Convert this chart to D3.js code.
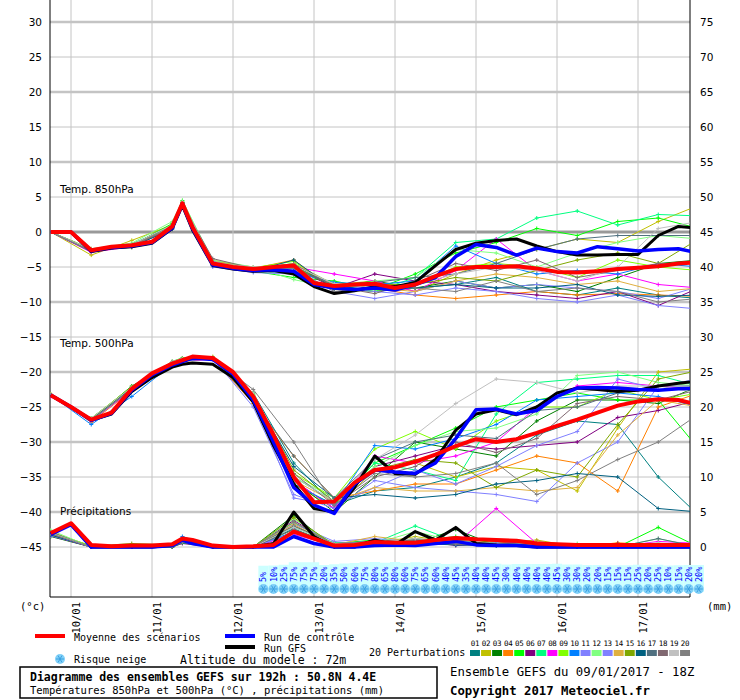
<!DOCTYPE html>
<html>
<head>
<meta charset="utf-8">
<script src="https://cdn.jsdelivr.net/npm/d3@7"></script>
<style>
  body { margin: 0; background: #fff; }
  text { font-family: "DejaVu Sans Mono", monospace; }
</style>
</head>
<body>
<svg id="chart"></svg>
<script>
// forecast hours (from 09/01 18Z)
const hours = [0,6,12,18,24,30,36,39,42,48,54,60,66,72,78,84,90,96,102,108,114,120,126,132,138,144,150,156,162,168,174,180,186,192];
const pertHours = [0,12,24,36,39,48,60,72,84,96,108,120,132,144,156,168,180,192];
const dayLabels = ["10/01","11/01","12/01","13/01","14/01","15/01","16/01","17/01"];
const dayHours = [6,30,54,78,102,126,150,174];
const leftTicks = [30,25,20,15,10,5,0,-5,-10,-15,-20,-25,-30,-35,-40,-45];
const rightTicks = [75,70,65,60,55,50,45,40,35,30,25,20,15,10,5,0];

const mean850 = [0,0,-2.6,-2.1,-1.9,-1.4,0.8,4.1,0.7,-4.5,-5,-5.3,-5,-4.8,-7.3,-7.7,-7.5,-7.4,-8,-7.5,-6.3,-5.3,-5,-5,-4.9,-5.2,-5.7,-5.8,-5.6,-5.3,-5.1,-4.9,-4.5,-4.3];
const ctrl850 = [0,0,-2.7,-2.2,-2.0,-1.5,0.6,4.0,0.5,-4.7,-5.2,-5.5,-5.4,-5.6,-7.5,-8.0,-8.2,-8.0,-8.3,-7.5,-6.5,-3.5,-1.8,-2.2,-3.3,-2.3,-2.8,-3.0,-2.1,-2.4,-2.7,-2.5,-2.4,-3.0];
const gfs850 = [0,0,-2.8,-2.3,-2.1,-1.6,0.5,3.8,0.3,-4.8,-5.3,-5.6,-5.5,-6.0,-7.8,-8.8,-8.4,-7.8,-7.8,-7.2,-4.8,-2.5,-1.6,-1.2,-1.0,-2.0,-2.8,-3.3,-3.3,-3.2,-3.2,-0.5,0.8,0.5];

const mean500 = [-23.3,-25,-26.8,-25.8,-22.4,-20.2,-18.8,-18.3,-17.8,-18,-20,-23.5,-29,-35,-38.6,-38.5,-35.8,-34,-33.6,-32.8,-31.8,-30.6,-29.6,-30,-29.6,-28.7,-27.7,-26.8,-25.8,-24.8,-24.2,-23.9,-24,-24.7];
const ctrl500 = [-23.3,-25,-26.9,-25.9,-22.6,-20.4,-19.0,-18.5,-18.0,-18.2,-20.3,-24.0,-30.0,-36.5,-39.0,-40.2,-36.0,-34.0,-34.3,-34.5,-33.0,-29.5,-25.4,-25.3,-26.0,-25.5,-23.5,-22.3,-22.2,-22.3,-22.5,-22.6,-22.4,-22.3];
const gfs500 = [-23.3,-25,-26.9,-26.0,-22.8,-20.8,-19.3,-18.9,-18.7,-18.9,-20.8,-24.3,-30.5,-36.0,-39.5,-40.0,-36.5,-32.0,-34.5,-34.6,-32.5,-28.3,-26.0,-25.4,-26.1,-25.0,-23.0,-22.3,-22.5,-22.8,-22.6,-22.0,-21.6,-21.3];

const meanPr = [2.0,3.4,0.3,0.1,0.2,0.2,0.4,1.2,1.0,0.2,0,0.1,0.3,2.2,1.2,0.2,0.3,0.7,0.6,0.6,1.0,1.3,1.1,1.0,0.9,0.5,0.4,0.3,0.3,0.3,0.3,0.3,0.3,0.3];
const ctrlPr = [1.8,3.2,0,0,0,0,0.2,1.0,0.5,0,0,0,0,1.5,0.5,0,0,0.2,0.3,0.2,0.5,0.8,0.3,0.2,0.2,0,0,0,0,0,0,0,0,0];
const gfsPr = [1.9,3.3,0,0,0,0,0.3,1.1,0.6,0,0,0,0.5,5.0,1.5,0,0,1.0,0.3,2.2,1.0,2.8,0.5,0.3,0.2,0,0,0,0,0,0,0,0,0];

const pertColors = ["#008080","#c0c000","#008000","#ff8000","#00ff00","#800080","#00ff80","#ff00ff","#80ff00","#0080ff","#8080ff","#80ff80","#8080ff","#e0b040","#80a800","#006080","#507080","#806870","#c0c0c0","#808080"];
const pertNames = ["01","02","03","04","05","06","07","08","09","10","11","12","13","14","15","16","17","18","19","20"];

const pert850 = [
  [0,-2.8,-2.0,0.5,3.8,-4.8,-5.5,-4.5,-8.0,-8.5,-8.0,-7.5,-6.5,-8.5,-9.0,-8.0,-9.0,-9.5],
  [0,-3.3,-1.2,1.0,4.0,-4.2,-5.0,-5.5,-7.5,-7.0,-8.5,-6.0,-4.0,-2.5,-1.0,-1.5,1.5,3.8],
  [0,-2.5,-2.2,0.6,4.2,-4.6,-5.4,-4.8,-7.8,-7.0,-8.0,-7.0,-8.0,-7.5,-8.5,-6.5,-4.5,-4.0],
  [0,-2.4,-1.8,0.9,4.0,-4.0,-5.2,-4.0,-8.2,-8.0,-9.0,-9.5,-9.0,-8.5,-9.0,-8.8,-9.0,-9.2],
  [0,-2.6,-1.9,1.2,4.5,-4.4,-5.6,-6.5,-7.0,-8.2,-6.0,-3.0,-1.5,0.5,-0.5,1.5,2.0,0.5],
  [0,-2.7,-2.0,0.7,4.1,-4.6,-5.3,-5.0,-8.0,-6.0,-7.0,-7.5,-8.5,-9.0,-9.5,-8.5,-10.5,-8.0],
  [0,-2.5,-1.7,0.8,4.2,-4.5,-5.3,-4.5,-7.5,-8.5,-6.5,-1.5,-1.0,2.0,3.0,1.0,2.5,2.3],
  [0,-2.9,-2.1,0.5,3.9,-4.7,-5.5,-5.0,-6.0,-7.0,-8.5,-5.5,-1.0,-5.5,-7.0,-6.0,-7.5,-8.0],
  [0,-2.6,-2.0,0.9,4.3,-4.3,-5.1,-4.2,-8.0,-8.5,-7.5,-5.0,-4.5,-5.0,-6.5,-4.0,-5.0,-5.5],
  [0,-2.5,-2.0,0.6,4.0,-4.8,-5.6,-5.8,-7.2,-7.5,-7.0,-2.0,-4.5,-6.0,-5.5,-6.0,-4.5,-5.0],
  [0,-2.8,-1.8,0.7,4.0,-4.2,-5.4,-5.5,-8.5,-9.5,-8.5,-7.0,-8.0,-7.5,-8.0,-8.5,-9.5,-7.8],
  [0,-2.4,-1.6,1.5,4.4,-4.0,-5.0,-6.8,-8.0,-7.0,-6.5,-2.5,-3.0,-5.0,-3.0,-1.5,-0.5,-1.0],
  [0,-2.7,-2.0,0.8,4.1,-5.0,-5.8,-6.0,-8.0,-8.5,-9.0,-8.0,-8.5,-9.5,-10.0,-9.0,-10.5,-11.0],
  [0,-2.6,-1.9,0.8,4.0,-4.5,-5.3,-4.5,-7.5,-8.0,-8.5,-7.0,-6.0,-6.5,-7.5,-7.0,-8.5,-8.0],
  [0,-2.5,-2.0,0.6,4.2,-4.6,-5.2,-5.0,-7.8,-7.5,-7.5,-6.5,-7.0,-5.5,-4.0,-3.0,-4.5,-1.0],
  [0,-2.7,-2.1,0.4,3.8,-4.8,-5.6,-4.0,-8.2,-7.5,-8.0,-7.5,-8.0,-8.0,-7.5,-9.0,-9.2,-9.0],
  [0,-2.6,-1.8,0.9,4.2,-4.4,-5.4,-5.2,-7.6,-7.2,-6.5,-6.0,-4.5,-2.5,-1.0,-0.5,-0.5,-0.5],
  [0,-2.8,-2.0,0.6,3.9,-3.8,-5.2,-4.6,-7.8,-8.8,-7.0,-4.5,-5.5,-4.0,-6.5,-5.5,-4.5,-4.5],
  [0,-2.5,-1.8,1.0,4.3,-4.4,-5.0,-4.8,-7.4,-8.0,-7.5,-6.0,-5.0,-5.5,-7.0,-5.0,0.5,1.5],
  [0,-2.7,-2.0,0.7,4.0,-4.6,-5.5,-5.2,-8.5,-7.8,-8.0,-8.5,-7.0,-8.5,-8.0,-8.5,-10.0,-9.5]
];

const pert500 = [
  [-23.3,-26.6,-22.2,-18.5,-18.0,-18.2,-23.0,-33.0,-39.0,-37.0,-36.5,-35.0,-33.0,-29.0,-27.0,-27.5,-35.0,-40.5],
  [-23.4,-27.0,-22.5,-18.6,-18.2,-17.8,-24.0,-36.0,-39.5,-34.0,-33.0,-35.0,-33.5,-34.0,-37.0,-28.0,-20.0,-19.5],
  [-23.3,-26.8,-22.0,-18.7,-18.3,-18.0,-23.5,-35.5,-40.0,-35.0,-30.0,-31.0,-32.0,-27.0,-24.0,-24.0,-24.5,-22.0],
  [-23.2,-27.2,-22.6,-19.0,-18.5,-18.1,-24.5,-32.0,-38.0,-37.0,-36.0,-36.0,-34.0,-32.0,-33.0,-37.0,-25.0,-23.0],
  [-23.3,-26.7,-22.3,-18.8,-18.4,-18.0,-23.0,-36.0,-39.0,-33.0,-30.5,-28.0,-25.0,-24.0,-23.0,-24.0,-24.0,-31.0],
  [-23.4,-26.9,-22.4,-18.7,-18.2,-18.1,-23.8,-35.5,-39.5,-33.5,-32.0,-30.5,-31.0,-30.5,-30.0,-26.5,-25.5,-24.0],
  [-23.3,-26.8,-22.5,-18.6,-18.2,-18.0,-23.5,-35.0,-38.5,-33.0,-34.0,-35.5,-26.0,-21.5,-21.0,-20.5,-20.5,-22.0],
  [-23.5,-27.0,-22.6,-18.8,-18.4,-18.2,-23.8,-35.5,-39.5,-32.0,-33.0,-32.0,-30.0,-25.0,-22.0,-21.5,-22.0,-22.5],
  [-23.2,-26.6,-22.1,-18.5,-18.0,-17.9,-23.2,-34.5,-38.0,-31.0,-28.5,-31.0,-27.0,-25.0,-25.0,-22.5,-24.0,-23.0],
  [-23.3,-27.5,-23.5,-18.9,-18.4,-18.1,-23.6,-36.0,-39.0,-30.5,-31.0,-29.5,-27.5,-24.0,-23.5,-23.0,-23.5,-25.0],
  [-23.4,-26.9,-22.4,-18.8,-18.3,-18.0,-25.0,-37.5,-39.5,-35.5,-36.5,-37.0,-37.5,-38.5,-33.0,-30.0,-22.0,-21.0],
  [-23.3,-26.8,-22.3,-18.6,-18.2,-18.0,-23.4,-35.0,-38.0,-33.5,-30.5,-28.5,-28.0,-26.0,-20.5,-20.0,-21.5,-22.0],
  [-23.3,-27.0,-22.5,-18.7,-18.3,-18.1,-24.0,-38.0,-39.0,-36.5,-34.0,-36.0,-33.5,-30.5,-28.5,-21.0,-22.5,-22.5],
  [-23.3,-26.9,-22.4,-18.8,-18.3,-18.0,-23.5,-35.5,-38.5,-36.5,-37.0,-37.0,-36.5,-37.0,-36.5,-29.0,-24.0,-25.0],
  [-23.2,-26.7,-22.2,-18.6,-18.1,-17.9,-23.3,-34.0,-38.5,-34.0,-32.5,-33.0,-36.5,-34.0,-35.0,-27.5,-21.0,-19.8],
  [-23.3,-26.8,-22.3,-18.7,-18.2,-18.0,-23.6,-33.5,-38.0,-37.5,-38.0,-37.5,-36.0,-35.5,-34.5,-35.0,-39.5,-40.0],
  [-23.4,-26.8,-22.5,-18.6,-18.1,-18.1,-24.2,-32.0,-38.0,-32.5,-30.0,-29.0,-29.5,-25.5,-25.0,-23.0,-22.0,-22.0],
  [-23.3,-26.9,-22.4,-18.7,-18.3,-18.0,-23.5,-34.5,-39.0,-35.0,-33.5,-30.0,-31.5,-29.5,-24.5,-23.5,-24.0,-22.5],
  [-23.2,-26.6,-22.2,-18.5,-18.1,-17.9,-23.0,-35.0,-38.5,-32.5,-29.0,-24.5,-21.0,-21.5,-23.0,-22.0,-22.0,-23.0],
  [-23.3,-26.9,-22.4,-18.7,-18.3,-18.1,-22.5,-30.0,-39.0,-34.5,-35.0,-34.5,-33.0,-37.5,-35.5,-32.5,-30.0,-26.0]
];

const pertPr = [
  [1.8,0.2,0,0.2,0.6,0,0,2.0,0.3,0.5,1.0,0.8,0.3,0,0.3,0,0,0],
  [2.0,0,0.3,0.1,0.8,0,0,3.5,0.2,0.5,1.5,0.6,0.6,1.0,0,0.5,0,0],
  [1.5,0,0,0,1.0,0,0,4.5,0,0.8,0.5,2.5,0.2,0.4,0,0,0,0.2],
  [2.2,0.1,0,0.2,0.7,0,0,3.0,0.5,0.5,0.3,0.5,0.8,0,0,0.6,0.3,0],
  [1.9,0,0.1,0.3,0.9,0,0,2.5,0.5,1.0,0.8,1.5,0.5,0,0.2,0,2.8,0],
  [1.6,0,0,0,0.5,0,0,3.8,0.3,0.8,1.0,0.2,0.5,0.8,0,0.5,0,0.5],
  [2.1,0,0,0.1,0.8,0,0,2.8,0.6,0.6,3.0,0.8,0.3,0,0.3,0,0.2,0.3],
  [1.7,0,0,0.2,1.1,0,0,1.8,0.2,0.5,0.5,0.4,5.5,0.5,0,0,0.8,0.5],
  [2.0,0.2,0,0,0.6,0,0,3.5,0.4,0.5,0.6,1.0,0.3,0.2,0,0,0,0],
  [1.8,0,0.1,0.1,1.5,0,0,2.2,0.3,0.3,1.2,0.3,0.5,0,0,0.3,0,0],
  [1.9,0,0,0.2,0.8,0,0,3.3,0.8,1.2,0.8,0.6,0.4,0.3,0,0,0.5,0],
  [2.4,0,0.2,0.3,0.9,0,0,4.0,0.4,0.5,2.2,0.8,0.3,0,0.5,0,1.2,0],
  [1.6,0.1,0,0.1,0.7,0,0,2.0,0.5,0.8,0.4,0.5,0.6,0,0,0,0,0.3],
  [2.0,0,0.1,0.2,0.7,0,0,3.2,0.3,1.5,0.8,0.6,0.3,0.8,0,0,0,0.2],
  [1.8,0.1,0.5,0.3,0.8,0,0,4.2,0.3,0.6,1.2,0.7,0.5,0,0.3,0.3,0.4,0],
  [1.7,0,0,0,0.6,0,0,2.6,0.2,0.4,0.5,0.3,0.2,0,0,0,0,0],
  [2.1,0,0,0.1,0.8,0,0,3.0,0.5,0.8,1.0,1.0,0.4,0.5,0,0,1.2,0],
  [1.9,0,0,0.1,0.7,0,0,2.5,0.4,0.6,0.8,0.4,0.3,0,0.2,0,0,0],
  [2.0,0,0.1,0.2,0.8,0,0,2.8,0.5,0.6,1.2,0.8,0.5,0,0,0.3,0.6,0.2],
  [1.9,0,0,0.1,0.7,0,0,3.6,0.3,0.7,0.6,0.5,0.4,0.2,0,0,0,0]
];

// snow risk, 3-hourly from +63h
const snowStart = 63;
const snowPct = [5,10,25,75,75,75,20,35,50,60,75,80,65,80,60,75,65,60,40,45,35,40,40,45,30,40,40,40,40,45,30,30,20,20,15,15,15,25,20,25,10,15,20,20];

const W = 740, H = 700;
const pL = 50, pR = 690, pT = 0, pB = 597;

const svg = d3.select("#chart").attr("width", W).attr("height", H);

const x = d3.scaleLinear().domain([0, 192]).range([50.75, 50.75 + 192 * 81 / 24]);
const yT = d3.scaleLinear().domain([-45, 30]).range([547, 22]);
const yP = d3.scaleLinear().domain([0, 75]).range([547, 22]);

svg.append("defs").append("clipPath").attr("id", "plot")
  .append("rect").attr("x", pL).attr("y", pT).attr("width", pR - pL).attr("height", pB - pT);

// grid
const grid = svg.append("g");
grid.selectAll(".hg").data(leftTicks).join("line")
  .attr("x1", pL).attr("x2", pR)
  .attr("y1", d => yT(d)).attr("y2", d => yT(d))
  .attr("stroke", d => d === 0 ? "#999" : "#c4c4c4")
  .attr("stroke-width", d => d === 0 ? 3 : (d % 10 === 0 ? 2.5 : 1));
grid.selectAll(".vg").data(dayHours).join("line")
  .attr("x1", d => x(d)).attr("x2", d => x(d))
  .attr("y1", pT).attr("y2", pB)
  .attr("stroke", "#c4c4c4");

const sans = "Verdana, 'DejaVu Sans', sans-serif";

// axes
const axL = svg.append("g").attr("transform", `translate(${pL},0)`)
  .call(d3.axisLeft(yT).tickValues(leftTicks).tickSize(0).tickPadding(8));
const axR = svg.append("g").attr("transform", `translate(${pR},0)`)
  .call(d3.axisRight(yP).tickValues(rightTicks).tickSize(0).tickPadding(10));
[axL, axR].forEach(a => {
  a.select(".domain").attr("stroke", "#000").attr("d", `M0,${pT}V${pB}`);
  a.selectAll("text").style("font-family", sans).style("font-size", "10.5px");
});
svg.append("line").attr("x1", pL).attr("x2", pR).attr("y1", pB).attr("y2", pB).attr("stroke", "#000");

// date labels
svg.append("g").selectAll("text").data(dayHours).join("text")
  .attr("transform", d => `translate(${x(d) + 9},602) rotate(-90)`)
  .attr("text-anchor", "end")
  .style("font-size", "10.5px")
  .text((d, i) => dayLabels[i]);

svg.append("text").attr("x", 20).attr("y", 610).style("font-size", "10.5px").text("(°c)");
svg.append("text").attr("x", 707).attr("y", 610).style("font-size", "10.5px").text("(mm)");

[["Temp. 850hPa", 193], ["Temp. 500hPa", 347], ["Précipitations", 515]].forEach(([t, yy]) =>
  svg.append("text").attr("x", 60).attr("y", yy).style("font-family", sans).style("font-size", "10.5px").text(t));

// snow row
const snow = svg.append("g");
const snowH = snowPct.map((p, i) => snowStart + 3 * i);
snow.selectAll("rect").data(snowPct).join("rect")
  .attr("x", (d, i) => x(snowH[i]) - 5).attr("width", 10.2)
  .attr("y", d => 566 - d / 20).attr("height", d => 592 - (566 - d / 20))
  .attr("fill", "#ccffff");
snow.selectAll("text").data(snowPct).join("text")
  .attr("transform", (d, i) => `translate(${x(snowH[i]) + 3},582) rotate(-90)`)
  .attr("fill", "#0000ff").style("font-size", "8.5px")
  .text(d => d + "%");

function flake(g, cx, cy) {
  g.append("circle").attr("cx", cx).attr("cy", cy).attr("r", 5).attr("fill", "#80d0f8");
  [0, 60, 120].forEach(a => {
    const r = a * Math.PI / 180;
    g.append("line").attr("x1", cx - 4 * Math.cos(r)).attr("y1", cy - 4 * Math.sin(r))
      .attr("x2", cx + 4 * Math.cos(r)).attr("y2", cy + 4 * Math.sin(r))
      .attr("stroke", "#3aa0e0").attr("stroke-width", 1);
  });
}
snowH.forEach(h => flake(snow, x(h), 589));

// series
const plot = svg.append("g").attr("clip-path", "url(#plot)");
const lineT = hs => d3.line().x((d, i) => x(hs[i])).y(d => yT(d));
const lineP = hs => d3.line().x((d, i) => x(hs[i])).y(d => yP(d));

function drawPert(data, gen, yScale) {
  data.forEach((s, k) => {
    const g = plot.append("g");
    g.append("path").attr("d", gen(s)).attr("fill", "none").attr("stroke", pertColors[k]).attr("stroke-width", 1);
    g.selectAll("path.m").data(s).join("path").attr("class", "m")
      .attr("d", (d, i) => { const px = x(pertHours[i]), py = yScale(d); return `M${px - 2},${py}H${px + 2}M${px},${py - 2}V${py + 2}`; })
      .attr("stroke", pertColors[k]).attr("stroke-width", 1);
  });
}
drawPert(pert850, lineT(pertHours), yT);
drawPert(pert500, lineT(pertHours), yT);
drawPert(pertPr, lineP(pertHours), yP);

function drawMain(s, gen, color, w) {
  plot.append("path").attr("d", gen(s)).attr("fill", "none").attr("stroke", color)
    .attr("stroke-width", w).attr("stroke-linejoin", "round");
}
const lt = lineT(hours), lp = lineP(hours);
drawMain(gfs850, lt, "#000", 3); drawMain(gfs500, lt, "#000", 3); drawMain(gfsPr, lp, "#000", 3);
drawMain(ctrl850, lt, "#0000ff", 3.5); drawMain(ctrl500, lt, "#0000ff", 3.5); drawMain(ctrlPr, lp, "#0000ff", 3.5);
drawMain(mean850, lt, "#ff0000", 4); drawMain(mean500, lt, "#ff0000", 4); drawMain(meanPr, lp, "#ff0000", 4);

// legend
const lg = svg.append("g").style("font-size", "10px");
lg.append("rect").attr("x", 35).attr("y", 634).attr("width", 30).attr("height", 4).attr("fill", "#ff0000");
lg.append("text").attr("x", 74).attr("y", 641).text("Moyenne des scénarios");
lg.append("rect").attr("x", 225).attr("y", 634).attr("width", 30).attr("height", 4).attr("fill", "#0000ff");
lg.append("text").attr("x", 264).attr("y", 641).text("Run de contrôle");
lg.append("rect").attr("x", 225).attr("y", 645).attr("width", 30).attr("height", 4).attr("fill", "#000");
lg.append("text").attr("x", 264).attr("y", 652).text("Run GFS");
flake(lg, 60, 659);
lg.append("text").attr("x", 74).attr("y", 663).text("Risque neige");
lg.append("text").attr("x", 180).attr("y", 664).style("font-size", "11.5px").text("Altitude du modele : 72m");
lg.append("text").attr("x", 369).attr("y", 656).text("20 Perturbations");

const sw = d3.scaleBand().domain(pertNames).range([470, 690]).paddingInner(0.1);
lg.selectAll("rect.sw").data(pertNames).join("rect").attr("class", "sw")
  .attr("x", d => sw(d)).attr("y", 650).attr("width", sw.bandwidth()).attr("height", 6)
  .attr("fill", (d, i) => pertColors[i]);
lg.selectAll("text.sw").data(pertNames).join("text").attr("class", "sw")
  .attr("x", d => sw(d) + sw.bandwidth() / 2).attr("y", 646).attr("text-anchor", "middle")
  .style("font-size", "7.5px").style("letter-spacing", "-0.3px").text(d => d);

svg.append("rect").attr("x", 20).attr("y", 667).attr("width", 417).attr("height", 31)
  .attr("fill", "none").attr("stroke", "#000").attr("stroke-width", 1.5);
svg.append("text").attr("x", 30).attr("y", 681).style("font-size", "11.5px").style("font-weight", "bold")
  .text("Diagramme des ensembles GEFS sur 192h : 50.8N 4.4E");
svg.append("text").attr("x", 30).attr("y", 694).style("font-size", "10.5px")
  .text("Températures 850hPa et 500hPa (°C) , précipitations (mm)");
svg.append("text").attr("x", 450).attr("y", 676).style("font-size", "12.3px").text("Ensemble GEFS du 09/01/2017 - 18Z");
svg.append("text").attr("x", 450).attr("y", 695).style("font-size", "12.3px").style("font-weight", "bold")
  .text("Copyright 2017 Meteociel.fr");
</script>
</body>
</html>
